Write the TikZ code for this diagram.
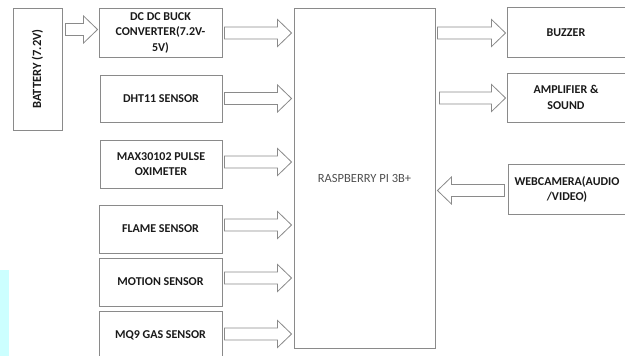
\documentclass[tikz,border=0pt]{standalone}
\usepackage{fontspec}
\usepackage{graphicx}
\setmainfont{Carlito}
\usetikzlibrary{calc}
\definecolor{edgegray}{HTML}{8A8A8A}
\definecolor{txtdark}{HTML}{1A1A1A}
\definecolor{txtgray}{HTML}{505050}
\definecolor{sidecyan}{HTML}{CCFFFF}
\tikzset{
  blockbox/.style={draw=edgegray, line width=0.9pt, fill=white, align=center,
    font=\fontsize{12}{15.5}\selectfont\bfseries, text=txtdark, inner sep=0pt},
  bigbox/.style={draw=edgegray, line width=0.9pt, fill=white, inner sep=0pt},
  barrowstyle/.style={draw=edgegray, line width=0.8pt, fill=white, line join=miter}
}
\newcommand\barrow[2]{\draw[barrowstyle] let \p1=#1, \p2=#2, \n1={sign(\x2-\x1)} in
  (\x1,\y1+6pt) -- (\x2-\n1*14pt,\y1+6pt) -- (\x2-\n1*14pt,\y1+13.5pt) -- (\x2,\y1)
  -- (\x2-\n1*14pt,\y1-13.5pt) -- (\x2-\n1*14pt,\y1-6pt) -- (\x1,\y1-6pt) -- cycle;}
\begin{document}
\begin{tikzpicture}[x=1pt,y=-1pt]
\useasboundingbox (0,0) rectangle (625,356);
\clip (0,0) rectangle (625,356);
\fill[sidecyan] (0,270) rectangle (9,356);
% left column
\node[blockbox, minimum width=49pt, minimum height=122pt] (bat) at (37.5,69) {\rotatebox{90}{\fontsize{12.5}{15}\selectfont\bfseries BATTERY (7.2V)}};
\node[blockbox, minimum width=123pt, minimum height=49pt] (dc) at (160.5,32.5) {DC DC BUCK\\CONVERTER(7.2V-\\5V)};
\node[blockbox, minimum width=122pt, minimum height=47pt] (dht) at (161,98.5) {DHT11 SENSOR};
\node[blockbox, minimum width=122pt, minimum height=48pt] (max) at (161,164) {MAX30102 PULSE\\OXIMETER};
\node[blockbox, minimum width=123pt, minimum height=48pt] (flame) at (160.5,229) {FLAME SENSOR};
\node[blockbox, minimum width=123pt, minimum height=48pt] (motion) at (160.5,282) {MOTION SENSOR};
\node[blockbox, minimum width=123pt, minimum height=48pt] (mq) at (160.5,335) {MQ9 GAS SENSOR};
% center
\node[bigbox, minimum width=141pt, minimum height=340pt] (rpi) at (364.5,178) {};
\node[font=\fontsize{12.5}{15}\selectfont, text=txtgray, inner sep=0pt] (rpitext) at (364.5,178) {RASPBERRY PI 3B+};
% right column
\node[blockbox, minimum width=118pt, minimum height=50pt] (buz) at (566,32.5) {BUZZER};
\node[blockbox, minimum width=118pt, minimum height=49pt] (amp) at (566,97.5) {AMPLIFIER \&\\SOUND};
\node[blockbox, minimum width=118pt, minimum height=50pt] (cam) at (567,189.5) {WEBCAMERA(AUDIO\\/VIDEO)};
% arrows
\barrow{($(bat.east|-dc.west)+(3,-3)$)}{($(dc.west)+(-1,-3)$)}
\barrow{($(dc.east)+(2,0.5)$)}{($(rpi.west|-dc.east)+(-2,0.5)$)}
\barrow{($(dht.east)+(2,0)$)}{($(rpi.west|-dht.east)+(-2,0)$)}
\barrow{($(max.east)+(2,-2)$)}{($(rpi.west|-max.east)+(-2,-2)$)}
\barrow{($(flame.east)+(2,-4)$)}{($(rpi.west|-flame.east)+(-2,-4)$)}
\barrow{($(motion.east)+(2,-4)$)}{($(rpi.west|-motion.east)+(-2,-4)$)}
\barrow{($(mq.east)+(2,-1)$)}{($(rpi.west|-mq.east)+(-2,-1)$)}
\barrow{($(rpi.east|-buz.west)+(2,0.5)$)}{($(buz.west)+(-1,0.5)$)}
\barrow{($(rpi.east|-amp.west)+(4,0.5)$)}{($(amp.west)+(-1,0.5)$)}
\barrow{($(cam.west)+(-3,1)$)}{($(rpi.east|-cam.west)+(2,1)$)}
\end{tikzpicture}
\end{document}
